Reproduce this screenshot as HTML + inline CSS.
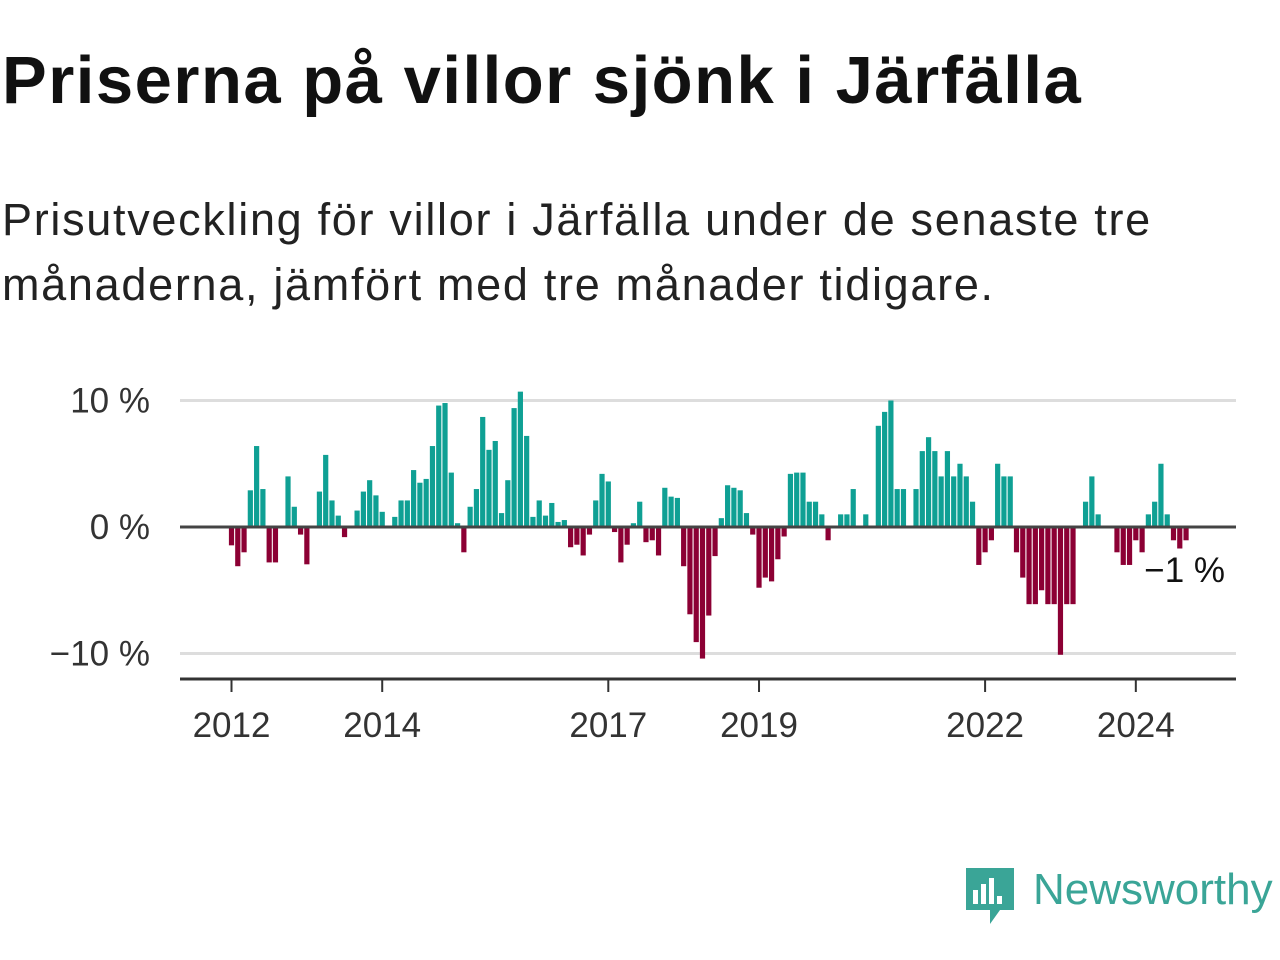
<!DOCTYPE html>
<html><head><meta charset="utf-8"><style>
body{margin:0;width:1280px;height:960px;background:#fff;overflow:hidden;font-family:"Liberation Sans",sans-serif;}
#title{position:absolute;left:2px;top:42px;font-size:67px;font-weight:bold;color:#111;letter-spacing:1.5px;white-space:nowrap;}
#sub{position:absolute;left:2px;top:187px;font-size:45px;line-height:65px;color:#222;width:1180px;letter-spacing:1.7px;}
svg{position:absolute;left:0;top:0;}
</style></head><body>
<div id="title">Priserna på villor sjönk i Järfälla</div>
<div id="sub">Prisutveckling för villor i Järfälla under de senaste tre månaderna, jämfört med tre månader tidigare.</div>
<svg id="chart" width="1280" height="960"></svg>
<script>
const values = [-1.45,-3.1,-2.0,2.9,6.4,3.0,-2.8,-2.8,0,4.0,1.6,-0.6,-2.95,0,2.8,5.7,2.1,0.9,-0.8,0,1.3,2.8,3.7,2.5,1.2,0,0.8,2.1,2.1,4.5,3.5,3.8,6.4,9.6,9.8,4.3,0.3,-2.0,1.6,3.0,8.7,
6.1,6.8,1.1,3.7,9.4,10.7,7.2,0.8,2.1,0.9,1.9,0.4,0.55,-1.6,-1.4,-2.25,-0.6,2.1,4.2,3.6,-0.4,-2.8,-1.4,0.3,2.0,-1.2,-1.05,-2.25,3.1,2.4,2.3,-3.1,-6.9,-9.1,-10.4,-7.0,-2.3,0.7,3.3,3.1,
2.9,1.1,-0.6,-4.8,-4.0,-4.3,-2.55,-0.75,4.2,4.3,4.3,2.0,2.0,1.0,-1.05,0,1.0,1.0,3.0,0,1.0,0,8.0,9.1,10.0,3.0,3.0,0,3.0,6.0,7.1,6.0,4.0,6.0,4.0,5.0,4.0,2.0,-3.0,
-2.0,-1.05,5.0,4.0,4.0,-2.0,-4.0,-6.1,-6.1,-5.0,-6.1,-6.1,-10.1,-6.1,-6.1,0,2.0,4.0,1.0,0,0,-2.0,-3.0,-3.0,-1.05,-2.0,1.0,2.0,5.0,1.0,-1.05,-1.7,-1.05];
const yTicks = [10,0,-10];
const yTickLabels = ["10 %","0 %","\u221210 %"];
const xTickYears = [2012,2014,2017,2019,2022,2024];
const lastLabel = "\u22121 %";

const NS="http://www.w3.org/2000/svg";
const svg=document.getElementById('chart');
const startYear=2012;
function x(i){return 231.5+i*6.28;}
function y(v){return 527-v*12.65;}
function mk(t,a){const e=document.createElementNS(NS,t);for(const k in a)e.setAttribute(k,a[k]);svg.appendChild(e);return e;}

yTicks.forEach((v,k)=>{
  if(v!==0){const g=mk('line',{x1:180,x2:1236,y1:y(v),y2:y(v),stroke:'#ddd','stroke-width':3});
  
  }
  const t=mk('text',{x:150,y:y(v)+12,'text-anchor':'end','font-size':35,fill:'#333','font-family':'Liberation Sans, sans-serif'});
  t.textContent=yTickLabels[k];
  
  
});
values.forEach((v,i)=>{
  if(v===0)return;
  const top=v>0?y(v):y(0);
  const r=mk('rect',{x:x(i)-2.6,y:top,width:5.2,height:Math.abs(y(v)-y(0)),fill:v>0?'#0fa094':'#8c0034'});
  
  
});
const z=mk('line',{x1:180,x2:1236,y1:y(0),y2:y(0),stroke:'#444','stroke-width':3});


const ax=mk('line',{x1:180,x2:1236,y1:679,y2:679,stroke:'#333','stroke-width':3});


xTickYears.forEach(yr=>{
  const px=x((yr-startYear)*12);
  const tk=mk('line',{x1:px,x2:px,y1:679,y2:692,stroke:'#333','stroke-width':2});
  
  
  const t=mk('text',{x:px,y:737,'text-anchor':'middle','font-size':35,fill:'#333','font-family':'Liberation Sans, sans-serif'});
  t.textContent=yr;
  
  
});
const lt=mk('text',{x:1225,y:582,'text-anchor':'end','font-size':35,fill:'#111','font-family':'Liberation Sans, sans-serif'});
lt.textContent=lastLabel;



const lg=mk('g',{});


const ic=document.createElementNS(NS,'path');
ic.setAttribute('d','M966 868 h48 v42 h-14 l-10 14 v-14 h-24 z');
ic.setAttribute('fill','#3aa597');


lg.appendChild(ic);
[[973,890,5],[981,884,5],[989,878,5],[997,896,5]].forEach(b=>{
  const r=document.createElementNS(NS,'rect');
  r.setAttribute('x',b[0]);r.setAttribute('y',b[1]);r.setAttribute('width',b[2]);r.setAttribute('height',904-b[1]);r.setAttribute('fill','#fff');
  lg.appendChild(r);
});
const lt2=document.createElementNS(NS,'text');
lt2.setAttribute('x',1033);lt2.setAttribute('y',904);lt2.setAttribute('font-size',44);lt2.setAttribute('fill','#3aa597');lt2.setAttribute('font-family','Liberation Sans, sans-serif');
lt2.textContent='Newsworthy';


lg.appendChild(lt2);
</script>
</body></html>
